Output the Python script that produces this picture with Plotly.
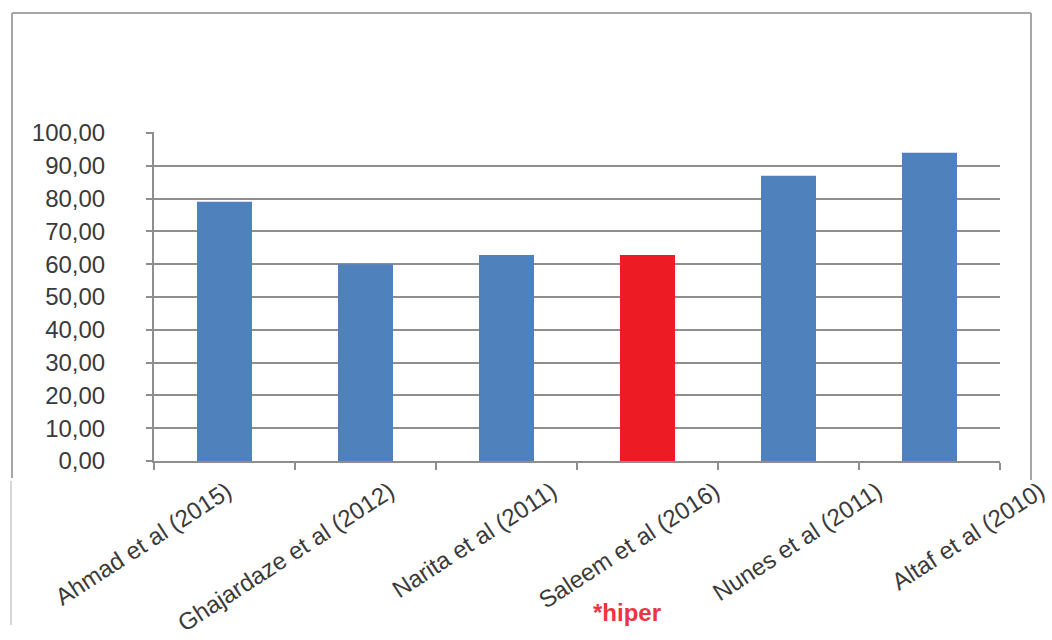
import plotly.graph_objects as go

# Study labels and reported values (%)
studies = ["Ahmad et al (2015)", "Ghajardaze et al (2012)", "Narita et al (2011)",
           "Saleem et al (2016)", "Nunes et al (2011)", "Altaf et al (2010)"]
values = [79.0, 60.0, 62.8, 62.8, 87.0, 94.0]
highlight = "Saleem et al (2016)"

y_ticks = [0, 10, 20, 30, 40, 50, 60, 70, 80, 90, 100]

BLUE = "#4F81BD"
RED = "#ED1C24"
GRID = "#8E8E8E"
FRAME = "#A6A6A6"
TEXT = "#3A3A3A"

W, H = 1052, 640
L, R, T, B = 154, 2, 132, 179
PW, PH = W - L - R, H - T - B


def px(x):
    return (x - L) / PW


def py(y):
    return (H - B - y) / PH


colors = [RED if s == highlight else BLUE for s in studies]

fig = go.Figure()
fig.add_trace(go.Bar(
    x=studies, y=values, marker=dict(color=colors, line=dict(width=0)),
    hoverinfo="x+y", showlegend=False,
))
# invisible carrier for the rotated category names on their own, wider axis
fig.add_trace(go.Scatter(
    x=list(range(len(studies))), y=values, xaxis="x2", yaxis="y2",
    mode="markers", marker=dict(opacity=0), hoverinfo="skip", showlegend=False,
))

x_end = (1000 - L) / PW
label_step = 162.6
label_first = 227
r0 = -(label_first - L) / label_step
span = PW / label_step

fig.update_layout(
    width=W, height=H,
    margin=dict(l=L, r=R, t=T, b=B),
    paper_bgcolor="white", plot_bgcolor="rgba(0,0,0,0)",
    separators=",.",
    bargap=0.61,
    font=dict(family="Liberation Sans, Arial, sans-serif", color=TEXT),
    xaxis=dict(
        domain=[0, x_end], type="category", range=[-0.5, 5.5],
        showticklabels=False, ticks="outside", tickson="boundaries",
        ticklen=7, tickwidth=2, tickcolor=GRID,
        showline=True, linecolor=GRID, linewidth=2,
        showgrid=False, zeroline=False,
    ),
    xaxis2=dict(
        domain=[0, 1], anchor="y2",
        range=[r0, r0 + span], tickmode="array",
        tickvals=list(range(len(studies))), ticktext=studies,
        tickangle=-33, ticks="", showline=False, showgrid=False,
        zeroline=False, tickfont=dict(size=24, color=TEXT),
        ticklabelstandoff=11,
    ),
    yaxis=dict(
        range=[0, 100.3], tickmode="array", tickvals=y_ticks,
        tickformat=".2f", tickfont=dict(size=24, color=TEXT),
        ticks="outside", ticklen=6, tickwidth=2, tickcolor=GRID,
        showline=True, linecolor=GRID, linewidth=2,
        showgrid=True, gridcolor=GRID, gridwidth=2,
        zeroline=False, ticklabelstandoff=36,
    ),
    yaxis2=dict(
        domain=[0, 1], anchor="x2", range=[0, 100.3],
        showgrid=False, showticklabels=False, showline=False,
        zeroline=False, ticks="",
    ),
    shapes=[
        dict(type="line", xref="paper", yref="paper", x0=px(12), x1=px(1031),
             y0=py(13), y1=py(13), line=dict(color=FRAME, width=2)),
        dict(type="line", xref="paper", yref="paper", x0=px(12), x1=px(12),
             y0=py(13), y1=py(478), line=dict(color=FRAME, width=2)),
        dict(type="line", xref="paper", yref="paper", x0=px(11), x1=px(11),
             y0=py(481), y1=py(625), line=dict(color="#C8C8C8", width=1.5)),
        dict(type="line", xref="paper", yref="paper", x0=px(1031), x1=px(1031),
             y0=py(13), y1=py(480), line=dict(color=FRAME, width=2)),
    ],
    annotations=[
        dict(text="<b>*hiper</b>", xref="paper", yref="paper",
             x=px(627), y=py(612), xanchor="center", yanchor="middle",
             showarrow=False,
             font=dict(size=24, color="#EE3344",
                       family="Liberation Sans, Arial, sans-serif")),
    ],
)

fig.write_html("out.html")
